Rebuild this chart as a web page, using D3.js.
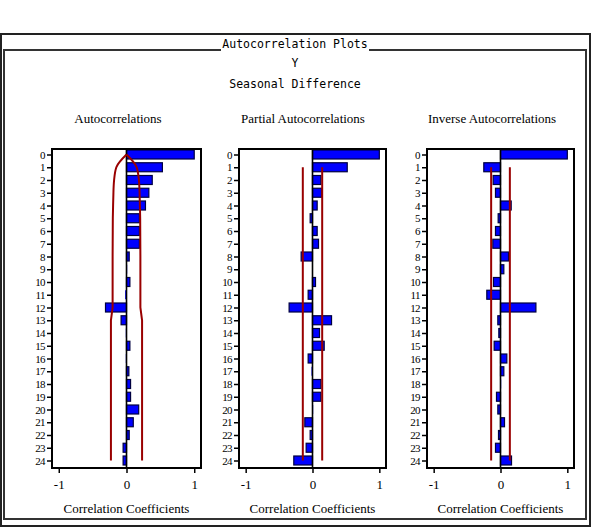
<!DOCTYPE html>
<html>
<head>
<meta charset="utf-8">
<script src="https://cdn.jsdelivr.net/npm/d3@7"></script>
<style>
  body { margin: 0; background: #fff; }
  svg { display: block; }
</style>
</head>
<body>
<div id="chart"></div>
<script>
// Data
var lags = [0, 1, 2, 3, 4, 5, 6, 7, 8, 9, 10, 11, 12, 13, 14, 15, 16, 17, 18, 19, 20, 21, 22, 23, 24];
var acf = [1.0, 0.53, 0.38, 0.33, 0.28, 0.19, 0.19, 0.19, 0.04, 0.01, 0.05, -0.02, -0.31,
  -0.08, -0.01, 0.05, -0.01, 0.035, 0.06, 0.06, 0.18, 0.10, 0.04, -0.05, -0.05];
var pacf = [1.0, 0.52, 0.125, 0.135, 0.07, -0.035, 0.07, 0.09, -0.17, 0.005, 0.045, -0.065, -0.35,
  0.285, 0.105, 0.175, -0.065, -0.015, 0.125, 0.125, 0.01, -0.115, -0.035, -0.095, -0.28];
var iacf = [1.0, -0.25, -0.11, -0.075, 0.16, -0.035, -0.075, -0.115, 0.12, 0.05, -0.105, -0.205, 0.53,
  -0.04, -0.025, -0.095, 0.095, 0.05, 0.01, -0.06, -0.04, 0.06, -0.03, -0.075, 0.165];
// two standard error limits
var acfLimit = [0, 0.15, 0.183, 0.193, 0.198, 0.202, 0.203, 0.204, 0.205, 0.205, 0.205, 0.205, 0.205,
  0.23, 0.23, 0.23, 0.23, 0.23, 0.23, 0.23, 0.23, 0.23, 0.23, 0.23, 0.23];
var pacfLimit = 0.145;
var iacfLimit = 0.14;
var xTicks = [-1, 0, 1];

var svgWidth = 595, svgHeight = 531;

var svg = d3.select("#chart")
  .append("svg")
  .attr("width", svgWidth)
  .attr("height", svgHeight);

var mono = "'DejaVu Sans Mono', 'Liberation Mono', monospace";
var serif = "'Liberation Serif', 'DejaVu Serif', serif";

// frames
svg.append("rect")
  .attr("x", 1).attr("y", 34).attr("width", 589).attr("height", 492)
  .attr("fill", "none").attr("stroke", "#222").attr("stroke-width", 2);
svg.append("rect")
  .attr("x", 4).attr("y", 50).attr("width", 582).attr("height", 469)
  .attr("fill", "none").attr("stroke", "#333").attr("stroke-width", 2);

// title sits over the inner frame line
svg.append("rect")
  .attr("x", 221).attr("y", 38).attr("width", 148).attr("height", 15)
  .attr("fill", "#fff");
svg.append("text")
  .attr("x", 295).attr("y", 48)
  .attr("text-anchor", "middle")
  .style("font-family", mono).style("font-size", "11.5px")
  .text("Autocorrelation Plots");
svg.append("text")
  .attr("x", 295).attr("y", 67)
  .attr("text-anchor", "middle")
  .style("font-family", mono).style("font-size", "11.5px")
  .text("Y");
svg.append("text")
  .attr("x", 295).attr("y", 88)
  .attr("text-anchor", "middle")
  .style("font-family", mono).style("font-size", "11.5px")
  .text("Seasonal Difference");

var plotTop = 149, plotBottom = 468;

var yScale = d3.scalePoint()
  .domain(lags)
  .range([154.5, 460.5]);
var barH = 9;

var panels = [
  { title: "Autocorrelations", x0: 52, x1: 201, titleX: 118, values: acf, limit: "curve" },
  { title: "Partial Autocorrelations", x0: 239, x1: 386, titleX: 303, values: pacf, limit: pacfLimit },
  { title: "Inverse Autocorrelations", x0: 427, x1: 574, titleX: 492, values: iacf, limit: iacfLimit }
];

panels.forEach(function(p) {
  var xScale = d3.scaleLinear()
    .domain([-1.1, 1.1])
    .range([p.x0, p.x1]);

  var g = svg.append("g");

  // panel title
  svg.append("text")
    .attr("x", p.titleX).attr("y", 123)
    .attr("text-anchor", "middle")
    .style("font-family", serif).style("font-size", "13px")
    .text(p.title);

  // bars
  g.selectAll("rect.bar")
    .data(p.values)
    .enter()
    .append("rect")
    .attr("class", "bar")
    .attr("x", d => Math.min(xScale(0), xScale(d)))
    .attr("y", (d, i) => yScale(lags[i]) - barH / 2)
    .attr("width", d => Math.abs(xScale(d) - xScale(0)))
    .attr("height", barH)
    .attr("fill", "#0000ff")
    .attr("stroke", d => Math.abs(d) > 0.02 ? "#000040" : "none")
    .attr("stroke-width", 1.2);

  // zero line
  g.append("line")
    .attr("x1", xScale(0)).attr("x2", xScale(0))
    .attr("y1", plotTop).attr("y2", plotBottom)
    .attr("stroke", "#000").attr("stroke-width", 1.6);

  // confidence limits
  if (p.limit === "curve") {
    [-1, 1].forEach(function(sign) {
      var idx = lags.map((d, i) => i);
      // rounded top over the first lags, straight segments after that
      var topLine = d3.line()
        .x(i => xScale(sign * acfLimit[i]))
        .y(i => yScale(lags[i]))
        .curve(d3.curveMonotoneY);
      var restLine = d3.line()
        .x(i => xScale(sign * acfLimit[i]))
        .y(i => yScale(lags[i]));
      g.append("path")
        .attr("d", topLine(idx.slice(0, 4)) + restLine(idx.slice(3)).replace("M", "L"))
        .attr("fill", "none")
        .attr("stroke", "#990000")
        .attr("stroke-width", 2);
    });
  } else {
    [-p.limit, p.limit].forEach(function(v) {
      g.append("line")
        .attr("x1", xScale(v)).attr("x2", xScale(v))
        .attr("y1", yScale(1)).attr("y2", yScale(24))
        .attr("stroke", "#990000").attr("stroke-width", 2);
    });
  }

  // box
  g.append("rect")
    .attr("x", p.x0).attr("y", plotTop)
    .attr("width", p.x1 - p.x0).attr("height", plotBottom - plotTop)
    .attr("fill", "none").attr("stroke", "#000").attr("stroke-width", 2);

  // lag axis
  var yAxis = d3.axisLeft(yScale).tickSize(4).tickPadding(2);
  var ya = g.append("g")
    .attr("transform", `translate(${p.x0 - 1}, 0)`)
    .call(yAxis);
  ya.select(".domain").remove();
  ya.selectAll("line").attr("stroke", "#000").attr("stroke-width", 1.5);
  ya.selectAll("text")
    .style("font-family", serif).style("font-size", "11px")
    .attr("letter-spacing", "-0.6px");

  // coefficient axis
  var xAxis = d3.axisBottom(xScale).tickValues(xTicks).tickSize(4).tickPadding(7)
    .tickFormat(d3.format("d"));
  var xa = g.append("g")
    .attr("transform", `translate(0, ${plotBottom + 1})`)
    .call(xAxis);
  xa.select(".domain").remove();
  xa.selectAll("line").attr("stroke", "#000").attr("stroke-width", 1.5);
  xa.selectAll("text")
    .style("font-family", serif).style("font-size", "13px")
    .text(d => d < 0 ? "-" + Math.abs(d) : d);

  svg.append("text")
    .attr("x", (xScale(0) + (p.x0 + p.x1) / 2) / 2).attr("y", 513)
    .attr("text-anchor", "middle")
    .style("font-family", serif).style("font-size", "13px")
    .text("Correlation Coefficients");
});
</script>
</body>
</html>
